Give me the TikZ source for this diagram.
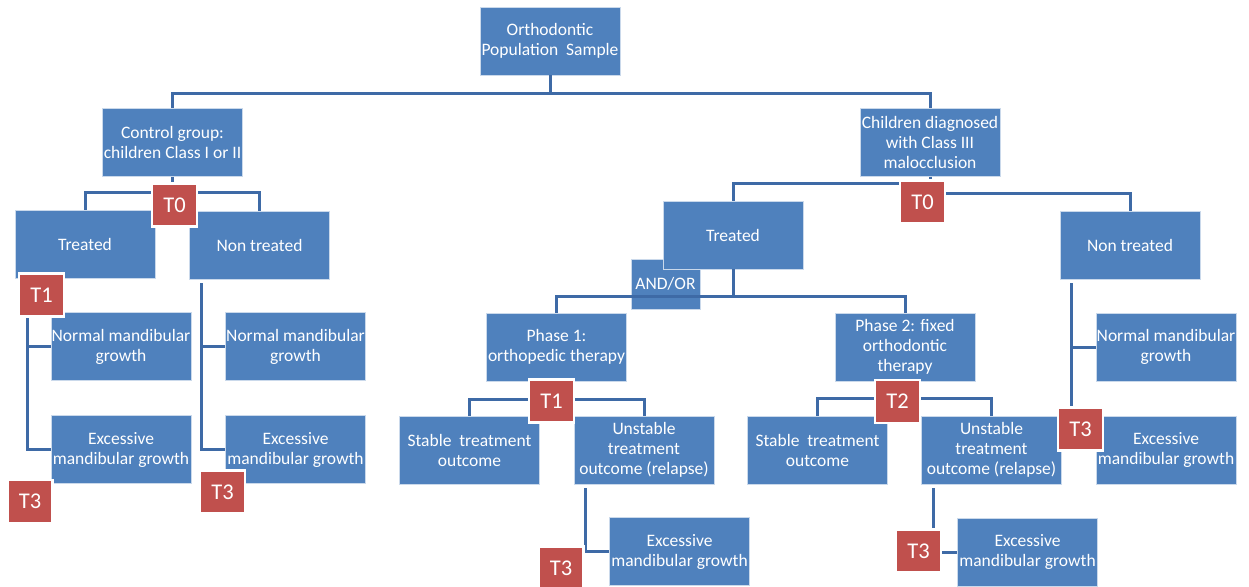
\documentclass[tikz,border=0pt]{standalone}
\usepackage{fontspec}
\setmainfont{Carlito}
\usepackage{tikz}
\usepackage{xcolor}
\usetikzlibrary{calc}
\usetikzlibrary{positioning}

\definecolor{boxblue}{RGB}{79,129,189}
\definecolor{linkblue}{RGB}{62,106,166}
\definecolor{timered}{RGB}{192,80,77}

\begin{document}
\begin{tikzpicture}[x=1pt,y=-1pt,
	box/.style={fill=boxblue,draw=boxblue!30,line width=0.8pt,text=white,align=center,
		minimum width=140pt,minimum height=68pt,inner sep=0pt,font=\fontsize{17.5}{20}\selectfont},
	tbox/.style={fill=timered,draw=white,line width=2.5pt,text=white,
		minimum width=45pt,minimum height=43pt,inner sep=0pt,font=\fontsize{22.5}{26}\selectfont},
	link/.style={linkblue,line width=3pt}]
\useasboundingbox (0,0) rectangle (1249,586);

\node[box] (root) at (550,41) {Orthodontic\\Population~~Sample};
\node[box] (ctrl) at (172.5,142.5) {Control group:\\children Class I or II};
\node[box] (ch3) at (930,142.5) {Children diagnosed\\with Class III\\malocclusion};

\node[box] (ltr) at (85,244.5) {Treated};
\node[box] (lnt) at (259.5,245) {Non treated};
\node[box] (lnorm) at (121,346.5) {Normal mandibular\\growth};
\node[box] (lexc) at (121,449.5) {Excessive\\mandibular growth};
\node[box] (mnorm) at (295.5,346.5) {Normal mandibular\\growth};
\node[box] (mexc) at (295.5,449.5) {Excessive\\mandibular growth};

\node[box,minimum width=69pt,minimum height=50pt] (andor) at (665.5,284) {AND/OR};
\node[box] (rtr) at (733,235) {Treated};
\node[box] (ph1) at (556.5,347) {Phase 1:\\orthopedic therapy};
\node[box] (st1) at (469.5,450) {Stable~~treatment\\outcome};
\node[box] (un1) at (644,450) {Unstable\\treatment\\outcome (relapse)};
\node[box] (ex1) at (679.5,551.5) {Excessive\\mandibular growth};
\node[box] (ph2) at (905,347) {Phase 2: fixed\\orthodontic\\therapy};
\node[box] (st2) at (817.5,450) {Stable~~treatment\\outcome};
\node[box] (un2) at (991.5,450) {Unstable\\treatment\\outcome (relapse)};
\node[box] (ex2) at (1027.5,552) {Excessive\\mandibular growth};

\node[box] (rnt) at (1130,245) {Non treated};
\node[box] (rnorm) at (1166,347) {Normal mandibular\\growth};
\node[box] (rexc) at (1166,450) {Excessive\\mandibular growth};

\foreach \kid in {ctrl,ch3}
{
	\draw[link] (root.south) -- ++(0,18) -| (\kid.north);
}
\foreach \kid in {ltr,lnt}
{
	\draw[link] (ctrl.south) -- ++(0,16) -| (\kid.north);
}
\foreach \kid in {lnorm,lexc}
{
	\draw[link] ([xshift=13pt]ltr.south west) |- (\kid.west);
}
\foreach \kid in {mnorm,mexc}
{
	\draw[link] ([xshift=12pt,yshift=-4pt]lnt.south west) |- (\kid.west);
}
\draw[link] (ch3.south) -- ++(0,7) -| (rtr.north);
\draw[link] (ch3.south) -- ++(0,17) -| (rnt.north);
\foreach \kid in {ph1,ph2}
{
	\draw[link] (rtr.south) -- ++(0,27) -| (\kid.north);
}
\foreach \kid in {st1,un1}
{
	\draw[link] (ph1.south) -- ++(0,18) -| (\kid.north);
}
\foreach \kid in {st2,un2}
{
	\draw[link] (ph2.south) -- ++(0,17) -| (\kid.north);
}
\draw[link] ([xshift=12pt,yshift=-4pt]un1.south west) |- (ex1.west);
\draw[link] ([xshift=12pt,yshift=-4pt]un2.south west) |- (ex2.west);
\foreach \kid in {rnorm,rexc}
{
	\draw[link] ([xshift=12pt,yshift=-4pt]rnt.south west) |- (\kid.west);
}

\node[tbox] (t0a) at (174.5,205) {T0};
\node[tbox] (t1a) at (41.5,295) {T1};
\node[tbox] (t3a) at (30,501.5) {T3};
\node[tbox] (t3b) at (222.5,492) {T3};
\node[tbox] (t0b) at (922.5,202) {T0};
\node[tbox] (t1b) at (551.5,401) {T1};
\node[tbox] (t3c) at (561,568) {T3};
\node[tbox] (t2) at (897.5,401.5) {T2};
\node[tbox] (t3d) at (918.5,551) {T3};
\node[tbox] (t3e) at (1080.5,429) {T3};

\end{tikzpicture}
\end{document}
